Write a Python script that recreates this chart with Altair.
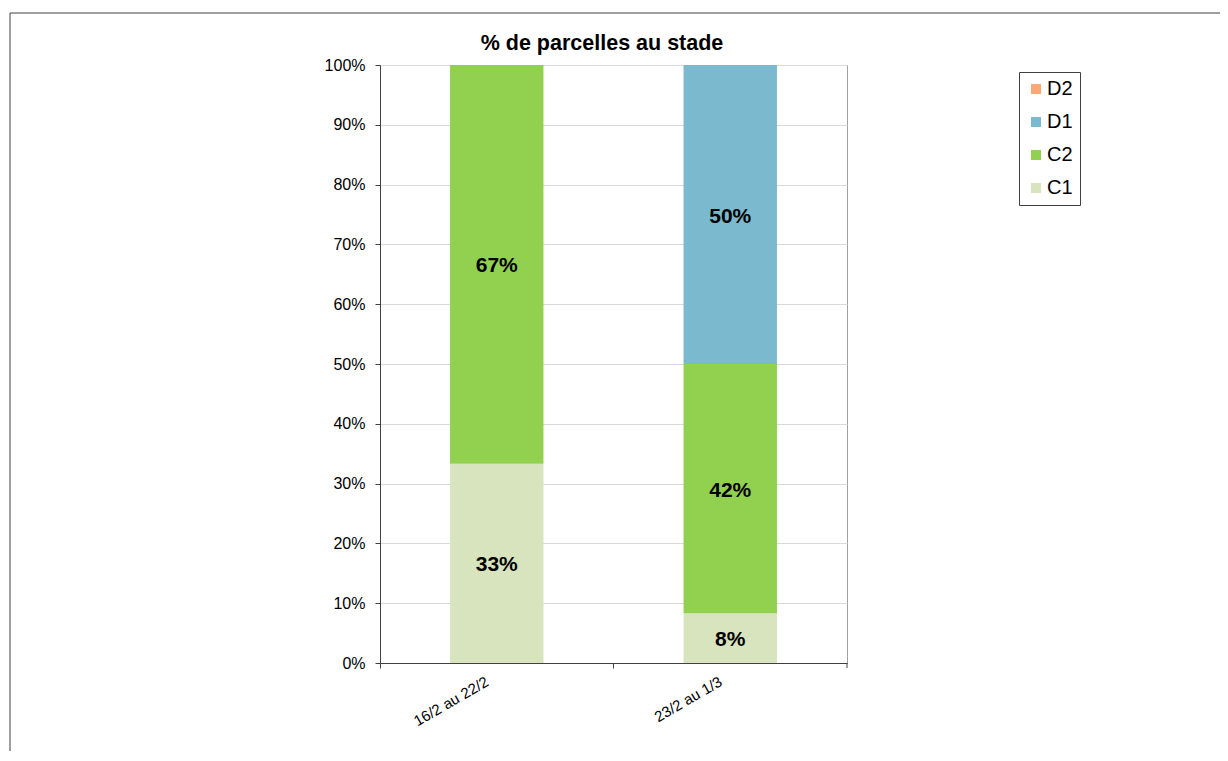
import altair as alt
import pandas as pd

periods = ["16/2 au 22/2", "23/2 au 1/3"]
stages = ["C1", "C2", "D1", "D2"]
c1 = [0.3333, 0.0833]
c2 = [0.6667, 0.4167]
d1 = [0.0, 0.5]
d2 = [0.0, 0.0]
legend_order = ["D2", "D1", "C2", "C1"]
colors = ["#F9A977", "#7BB9CE", "#92D050", "#D7E4BD"]
y_ticks = [0, 0.1, 0.2, 0.3, 0.4, 0.5, 0.6, 0.7, 0.8, 0.9, 1.0]
title_text = "% de parcelles au stade"

rows = []
for i, p in enumerate(periods):
    for k, (s, vals) in enumerate(zip(stages, [c1, c2, d1, d2])):
        rows.append({"period": p, "stage": s, "value": vals[i], "order": k})
df = pd.DataFrame(rows)

FONT = "Liberation Sans"
W, H = 467, 598

base = alt.Chart(df)

bars = base.mark_bar(width={"band": 0.4}).encode(
    x=alt.X("period:N", sort=periods, title=None,
            scale=alt.Scale(paddingInner=0, paddingOuter=0),
            axis=alt.Axis(labelAngle=-30, bandPosition=0, grid=False, labelFontSize=15,
                          labelFont=FONT, labelColor="#000000", domainColor="#404040",
                          tickColor="#404040", tickSize=5, labelPadding=6, labelOffset=-13)),
    y=alt.Y("value:Q", stack="zero", title=None,
            scale=alt.Scale(domain=[0, 1], nice=False),
            axis=alt.Axis(values=y_ticks, format=".0%", labelFontSize=16, labelFont=FONT,
                          labelColor="#000000", domainColor="#404040", tickColor="#404040",
                          tickSize=5, labelPadding=10, gridColor="#D9D9D9")),
    color=alt.Color("stage:N", scale=alt.Scale(domain=legend_order, range=colors),
                    legend=alt.Legend(title=None, orient="none", legendX=639, legendY=7,
                                      strokeColor="#404040", padding=7, symbolType="square",
                                      symbolSize=100, symbolStrokeWidth=0, labelFontSize=20,
                                      labelFont=FONT, labelColor="#000000", rowPadding=13,
                                      labelOffset=1)),
    order=alt.Order("order:Q", sort="ascending"),
)

labels = base.transform_stack(
    stack="value", as_=["y0", "y1"], groupby=["period"], sort=[alt.SortField("order")]
).transform_calculate(
    mid="(datum.y0 + datum.y1) / 2"
).transform_filter(
    "datum.value > 0"
).mark_text(fontSize=21, fontWeight="bold", font=FONT, color="#000000", dy=2).encode(
    x=alt.X("period:N", sort=periods),
    y=alt.Y("mid:Q"),
    text=alt.Text("value:Q", format=".0%"),
)

frame_df = pd.DataFrame({"t": [title_text]})
title = alt.Chart(frame_df).mark_text(fontSize=21.5, fontWeight="bold", font=FONT,
                                      color="#000000", baseline="middle").encode(
    x=alt.value(222), y=alt.value(-21), text="t:N")
frame_v = alt.Chart(frame_df).mark_rule(color="#404040", strokeWidth=1).encode(
    x=alt.value(-370), y=alt.value(-52), y2=alt.value(720))
frame_h = alt.Chart(frame_df).mark_rule(color="#404040", strokeWidth=1).encode(
    x=alt.value(-370), x2=alt.value(860), y=alt.value(-52))
end_tick = alt.Chart(frame_df).mark_rule(color="#404040", strokeWidth=1).encode(
    x=alt.value(W), y=alt.value(H), y2=alt.value(H + 5))

chart = alt.layer(bars, labels, end_tick, title, frame_v, frame_h).properties(
    width=W, height=H,
    autosize=alt.AutoSizeParams(type="none"),
    padding={"left": 372, "top": 57, "right": 373, "bottom": 88},
).configure_view(stroke="#A0A0A0", strokeWidth=1)

chart.save("out.html", embed_options={"renderer": "svg", "actions": False})
